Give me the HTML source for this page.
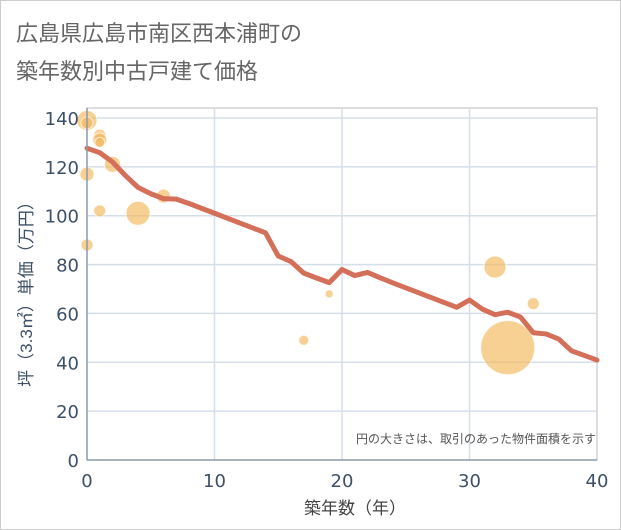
<!DOCTYPE html>
<html><head><meta charset="utf-8">
<style>
html,body{margin:0;padding:0;background:#fff;}
body{width:621px;height:530px;overflow:hidden;font-family:"Liberation Sans","Noto Sans CJK JP",sans-serif;}
#frame{position:absolute;left:0;top:0;width:619px;height:528px;border:1px solid #ccc;}
</style></head>
<body>
<div id="frame"></div>
<svg id="chart" width="621" height="530" style="position:absolute;left:0;top:0">
<g fill="#666" font-size="22" font-family="'Liberation Sans','Noto Sans CJK JP',sans-serif">
<text x="16" y="41">広島県広島市南区西本浦町の</text>
<text x="16" y="79">築年数別中古戸建て価格</text>
</g>
<g id="grid"></g>
<g id="bubbles"></g>
<g id="line"></g>
<g id="axes"></g>
<text x="596" y="443" text-anchor="end" font-size="12" fill="#555" font-family="'Liberation Sans','Noto Sans CJK JP',sans-serif">円の大きさは、取引のあった物件面積を示す</text>
<text x="355" y="514" text-anchor="middle" font-size="17" fill="#444" font-family="'Liberation Sans','Noto Sans CJK JP',sans-serif">築年数（年）</text>
<text transform="translate(32,290) rotate(-90)" text-anchor="middle" font-size="17" fill="#3d5068" font-family="'Liberation Sans','Noto Sans CJK JP',sans-serif">坪（3.3㎡）単価（万円）</text>
</svg>
<script>
const lineYears=[0,1,2,3,4,5,6,7,8,9,10,11,12,13,14,15,16,17,18,19,20,21,22,23,24,25,26,27,28,29,30,31,32,33,34,35,36,37,38,39,40];
const linePrices=[127.6,125.8,122,116.5,111.6,109,107,106.8,105,103,101,99,97,95,93,83.5,81.2,76.5,74.5,72.6,78,75.5,76.8,74.6,72.5,70.5,68.5,66.5,64.5,62.5,65.5,61.8,59.5,60.5,58.5,52.1,51.6,49.5,44.7,42.8,40.9];
const bubbleYears=[0,0,0,0,1,1,1,1,2,4,6,17,19,32,33,35];
const bubblePrices=[139,138,117,88,133,131,130,102,121,101,108,49,68,79,46,64];
const bubbleSizes=[10,6,7,6,6,7,5,6,8,12,7,5,4,11,27,6];
const xTicks=[0,10,20,30,40];
const yTicks=[0,20,40,60,80,100,120,140];
const X0=87,X1=597,Y0=460,Y1=118;
const xs=v=>X0+(v-0)/40*(X1-X0);
const ys=v=>Y0-(v/140)*(Y0-Y1);
const NS="http://www.w3.org/2000/svg";
function mk(t,parent,attrs){const e=document.createElementNS(NS,t);for(const k in attrs)e.setAttribute(k,attrs[k]);parent.appendChild(e);return e;}
const grid=document.getElementById('grid'),axes=document.getElementById('axes');
const bg=mk('rect',grid,{x:X0,y:108,width:X1-X0,height:Y0-108,fill:'#fff',stroke:'#bbb'});


yTicks.forEach(t=>{
  if(t>0){const l=mk('line',grid,{x1:X0,x2:X1,y1:ys(t),y2:ys(t),stroke:'#d5dfe9','stroke-width':1.5});
  
  }
  const tx=mk('text',axes,{x:X0-8,y:ys(t)+7,'text-anchor':'end','font-size':18,fill:'#3d5068','font-family':"'DejaVu Sans',sans-serif"});
  tx.textContent=t;
  
  
});
xTicks.forEach(t=>{
  if(t>0&&t<40){const l=mk('line',grid,{x1:xs(t),x2:xs(t),y1:108,y2:Y0,stroke:'#d5dfe9','stroke-width':1.5});
  
  }
  const tx=mk('text',axes,{x:xs(t),y:Y0+27,'text-anchor':'middle','font-size':18,fill:'#3d5068','font-family':"'DejaVu Sans',sans-serif"});
  tx.textContent=t;
  
  
});
const ax1=mk('line',axes,{x1:X0,x2:X0,y1:108,y2:Y0,stroke:'#8a9aab','stroke-width':1.5});


const ax2=mk('line',axes,{x1:X0,x2:X1,y1:Y0,y2:Y0,stroke:'#8a9aab','stroke-width':1.5});


const bub=document.getElementById('bubbles');
bubbleYears.forEach((yr,i)=>{
  const c=mk('circle',bub,{cx:xs(yr),cy:ys(bubblePrices[i]),r:bubbleSizes[i],fill:'#f2b75a','fill-opacity':0.65,stroke:'#fff','stroke-opacity':0.7,'stroke-width':1});
  
  
});
const pts=lineYears.map((y,i)=>xs(y)+','+ys(linePrices[i])).join(' ');
const pl=mk('polyline',document.getElementById('line'),{points:pts,fill:'none',stroke:'#d4705a','stroke-width':5,'stroke-linejoin':'round','stroke-linecap':'round'});


</script>
</body></html>
